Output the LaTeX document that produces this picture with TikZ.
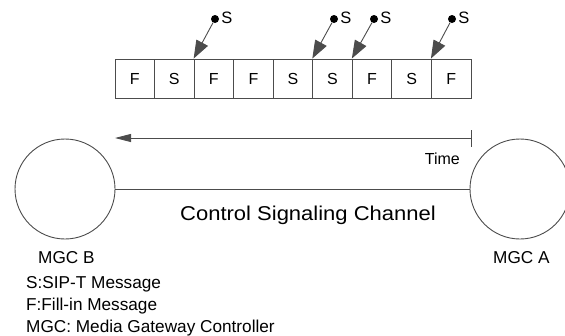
\documentclass[tikz,border=0pt]{standalone}
\usepackage{fontspec}
\setmainfont{Liberation Sans}
\newfontfamily\widesans[FakeStretch=1.1]{Liberation Sans}
\usetikzlibrary{arrows.meta}

\tikzset{
  line/.style={draw=black!70, line width=0.9pt},
  slot/.style={line, minimum width=39.55pt, minimum height=39pt, inner sep=0pt,
    font=\fontsize{16}{16}\selectfont},
  station/.style={line, circle, minimum size=100pt, inner sep=0pt},
  srcdot/.style={circle, fill=black, minimum size=8pt, inner sep=0pt},
  srclabel/.style={anchor=west, inner sep=0pt, font=\fontsize{16.5}{16.5}\selectfont},
  inject/.style={line, -{Triangle[length=18pt, width=13pt]}},
  txt/.style={inner sep=0pt, font=\fontsize{17.2}{17.2}\selectfont},
}

\begin{document}
\begin{tikzpicture}[x=1pt, y=-1pt]
\useasboundingbox (0,0) rectangle (565,335);

% message slots on the channel
\foreach \m [count=\i] in {F,S,F,F,S,S,F,S,F} {
  \node[slot] (f\i) at ({115+39.55*(\i-0.5)}, 78.5) {\m};
}

% SIP-T messages inserted between slots
\foreach \k/\t/\dx in {1/3/215, 2/6/334, 3/7/374, 4/9/452} {
  \node[srcdot] (d\k) at (\dx, 19) {};
  \node[srclabel] (s\k) at ([xshift=2pt, yshift=1.5pt]d\k.east) {S};
  \draw[inject] (d\k) -- (f\t.north west);
}

% time axis
\coordinate (tEnd) at (471,138);
\coordinate (tHead) at (115,138);
\coordinate (tTop) at (471,130);
\coordinate (tBot) at (471,147);
\draw[line, -{Triangle[length=16pt, width=8pt]}] (tEnd) -- (tHead);
\draw[line] (tTop) -- (tBot);
\node[inner sep=0pt, font=\fontsize{16}{16}\selectfont, anchor=base east] (time) at (460,164) {Time};

% gateway controllers and the channel between them
\node[station] (mgcB) at (65,189) {};
\node[station] (mgcA) at (520,189) {};
\draw[line] (mgcB.east) -- (mgcA.west);
\node[inner sep=0pt, font=\widesans\fontsize{20}{20}\selectfont, anchor=base] (chan) at (308,220) {Control Signaling Channel};

\node[txt, anchor=base west] (labB) at (38,263) {MGC B};
\node[txt, anchor=base west] (labA) at (493,263) {MGC A};

% legend
\node[txt, anchor=base west] (leg1) at (26,288) {S:SIP-T Message};
\node[txt, anchor=base west] (leg2) at (26,310) {F:Fill-in Message};
\node[txt, anchor=base west] (leg3) at (26,332) {MGC: Media Gateway Controller};
\end{tikzpicture}
\end{document}
